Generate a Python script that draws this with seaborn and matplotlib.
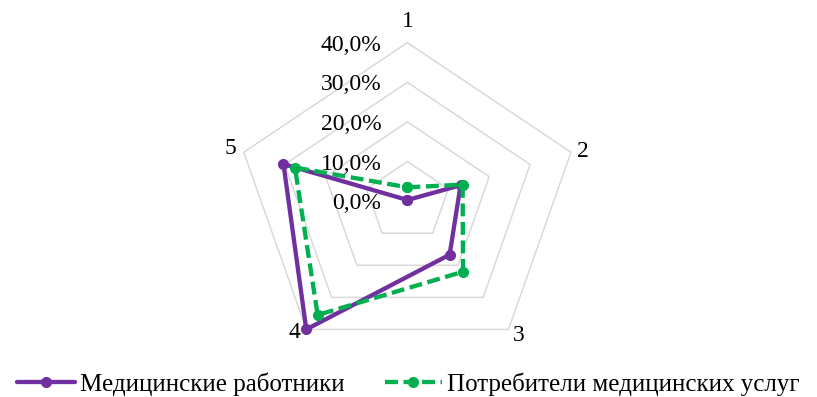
import numpy as np
import pandas as pd
import matplotlib
matplotlib.use("Agg")
import matplotlib.pyplot as plt
import seaborn as sns

categories = ["1", "2", "3", "4", "5"]
series_names = ["Медицинские работники", "Потребители медицинских услуг"]
med_workers = [0.3, 13.0, 16.7, 40.0, 30.3]
consumers = [3.5, 13.5, 22.0, 35.5, 27.5]
ring_values = [0, 10, 20, 30, 40]
ring_labels = ["0,0%", "10,0%", "20,0%", "30,0%", "40,0%"]

colors = {series_names[0]: "#7030A0", series_names[1]: "#00B050"}

sns.set_theme(style="white")
plt.rcParams["font.family"] = ["Liberation Serif", "DejaVu Serif"]

n = len(categories)
theta = [2 * np.pi * i / n for i in range(n)]

rows = []
for name, vals in zip(series_names, [med_workers, consumers]):
    for i in range(n + 1):
        k = i % n
        rows.append({"series": name, "theta": theta[k], "value": vals[k], "order": i})
df = pd.DataFrame(rows)

fig = plt.figure(figsize=(8.17, 3.97), dpi=100)
ax = fig.add_axes([0.2881, 0.094, 0.4211, 0.7985], projection="polar")
ax.set_aspect("auto")
ax.set_theta_zero_location("N")
ax.set_theta_direction(-1)
ax.set_ylim(0, 40)
ax.grid(False)
ax.spines["polar"].set_visible(False)
ax.set_xticks([])
ax.set_yticks([])
ax.patch.set_alpha(0)

# pentagon grid
for rv in ring_values[1:]:
    ax.plot(theta + [theta[0]], [rv] * (n + 1), color="#d9d9d9", lw=1.1,
            zorder=1, clip_on=False)

sns.lineplot(data=df, x="theta", y="value", hue="series", style="series",
             palette=colors, sort=False, estimator=None, units="series",
             markers={series_names[0]: "o", series_names[1]: "o"},
             dashes={series_names[0]: "", series_names[1]: (3, 1.3)},
             linewidth=3.1, markersize=8, markeredgewidth=0, ax=ax, zorder=3)
for line in ax.lines:
    line.set_clip_on(False)

# radial labels
for rv, lab in zip(ring_values, ring_labels):
    ax.annotate(lab, xy=(0, rv), xytext=(-26, 0), textcoords="offset pixels",
                ha="right", va="center_baseline", fontsize=17, color="black")

# category labels
offsets = [(0, 21), (12, 1), (10, -6), (-12, -3), (-13, 4)]
for t, lab, off in zip(theta, categories, offsets):
    ax.annotate(lab, xy=(t, 40), xytext=off, textcoords="offset pixels",
                ha="center", va="center", fontsize=17, color="black")

handles, labels = ax.get_legend_handles_labels()
if ax.get_legend() is not None:
    ax.get_legend().remove()
fig.legend(handles, labels, loc="center", bbox_to_anchor=(0.5, 0.033),
           ncol=2, frameon=False, fontsize=18, handlelength=2.3,
           handletextpad=0.2, columnspacing=1.6, labelcolor="black")

fig.savefig("out.png", dpi=100)
